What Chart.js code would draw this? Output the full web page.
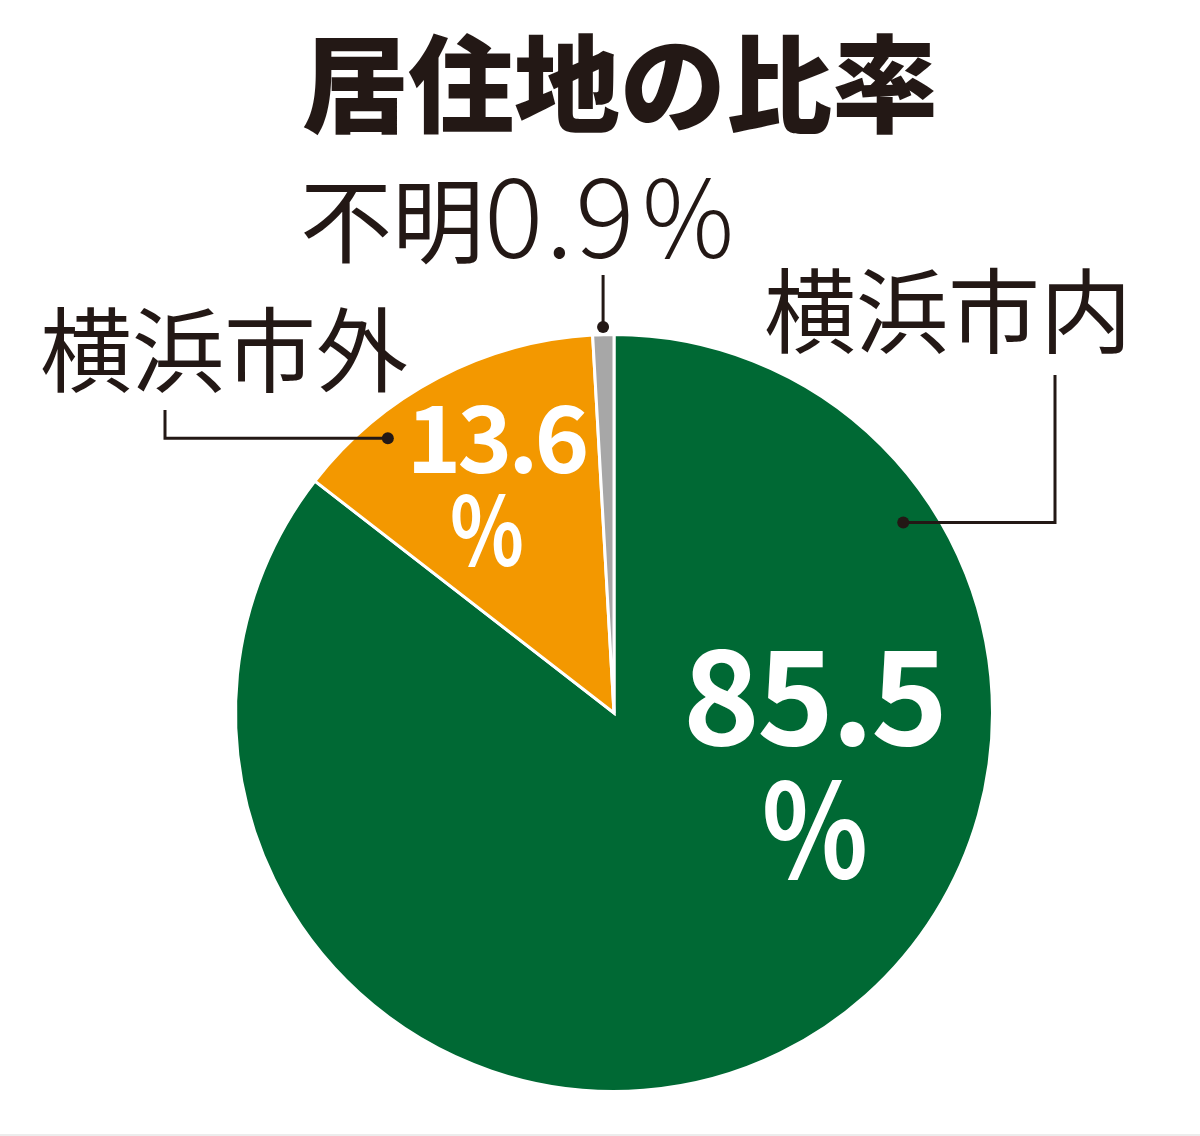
<!DOCTYPE html>
<html><head><meta charset="utf-8">
<script src="https://cdn.jsdelivr.net/npm/chart.js@4/dist/chart.umd.min.js"></script>
<style>
html,body{margin:0;padding:0;background:#fff;}
#wrap{position:relative;width:1200px;height:1136px;}
#wrap:after{content:"";position:absolute;left:0;right:0;bottom:0;height:2px;background:#ececec;}
</style></head>
<body><div id="wrap"><canvas id="c" width="1200" height="1136"></canvas></div>
<script>
const title = "居住地の比率";
const categories = ["横浜市内", "横浜市外", "不明"];
const values = [85.5, 13.6, 0.9];
const colors = ["#006934", "#F39800", "#A7A7A7"];

const ink = "#231815";
const JP = '"Noto Sans CJK JP", "Noto Sans", sans-serif';

function arcPoint(el, frac, rfrac) {
  const a = el.startAngle + (el.endAngle - el.startAngle) * frac;
  const r = el.outerRadius * rfrac;
  return {x: el.x + Math.cos(a) * r, y: el.y + Math.sin(a) * r};
}
function scaledText(ctx, text, cx, y, sx) {
  ctx.save();
  ctx.translate(cx, y);
  ctx.scale(sx, 1);
  ctx.textAlign = 'center';
  ctx.fillText(text, 0, 0);
  ctx.restore();
}

const annot = {
  id: 'annot',
  afterDraw(chart) {
    const ctx = chart.ctx;
    const arcs = chart.getDatasetMeta(0).data;
    ctx.save();
    // title
    ctx.fillStyle = ink;
    ctx.font = '900 106px ' + JP;
    ctx.textAlign = 'center';
    ctx.textBaseline = 'middle';
    ctx.fillText(title, 620, 84);

    // category labels
    ctx.font = '400 92px ' + JP;
    ctx.textAlign = 'left';
    ctx.fillText(categories[2], 300, 221);
    ctx.fillText(categories[1], 40, 350);
    ctx.fillText(categories[0], 764, 311);

    // 0.9%
    ctx.textBaseline = 'alphabetic';
    ctx.font = '300 111px ' + JP;
    ctx.letterSpacing = '2px';
    ctx.fillText(values[2].toFixed(1), 484, 258);
    ctx.letterSpacing = '0px';
    ctx.font = '300 108px ' + JP;
    scaledText(ctx, '%', 688, 258, 0.95);

    // leader lines
    ctx.strokeStyle = ink;
    ctx.lineWidth = 3;
    const dot = (p) => { ctx.beginPath(); ctx.arc(p.x, p.y, 6, 0, Math.PI * 2); ctx.fill(); };
    let p = arcPoint(arcs[2], 0.5, 1.02);
    ctx.beginPath(); ctx.moveTo(p.x, 275); ctx.lineTo(p.x, p.y); ctx.stroke(); dot(p);
    p = arcPoint(arcs[1], 0.26, 0.94);
    ctx.beginPath(); ctx.moveTo(165, 410); ctx.lineTo(165, p.y); ctx.lineTo(p.x, p.y); ctx.stroke(); dot(p);
    p = arcPoint(arcs[0], 0.184, 0.915);
    ctx.beginPath(); ctx.moveTo(1055, 375); ctx.lineTo(1055, p.y); ctx.lineTo(p.x, p.y); ctx.stroke(); dot(p);

    // value labels
    ctx.fillStyle = '#fff';
    ctx.textAlign = 'center';
    ctx.textBaseline = 'alphabetic';
    ctx.font = '700 93px ' + JP;
    ctx.letterSpacing = '-4px';
    ctx.fillText(values[1].toFixed(1), 496, 473);
    ctx.letterSpacing = '0px';
    ctx.font = '600 96px ' + JP;
    scaledText(ctx, '%', 487, 566, 0.8);
    ctx.font = '700 131px ' + JP;
    ctx.letterSpacing = '-3px';
    ctx.fillText(values[0].toFixed(1), 814, 745);
    ctx.letterSpacing = '0px';
    ctx.font = '600 130px ' + JP;
    scaledText(ctx, '%', 815, 878, 0.85);
    ctx.restore();
  }
};

new Chart(document.getElementById('c'), {
  type: 'pie',
  data: {
    labels: categories,
    datasets: [{
      data: values,
      backgroundColor: colors,
      borderColor: '#ffffff',
      borderWidth: 3,
      borderJoinStyle: 'miter'
    }]
  },
  options: {
    responsive: false,
    animation: false,
    rotation: 0,
    layout: {padding: {top: 333, bottom: 43, left: 234, right: 206}},
    plugins: {legend: {display: false}, tooltip: {enabled: false}}
  },
  plugins: [annot]
});
</script></body></html>
